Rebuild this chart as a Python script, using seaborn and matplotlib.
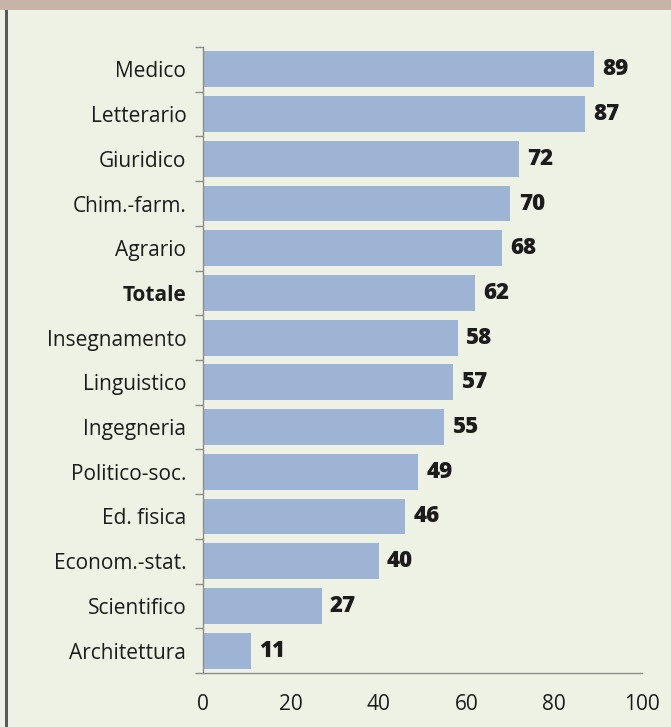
import matplotlib
matplotlib.use("Agg")
import matplotlib.pyplot as plt
import seaborn as sns
import pandas as pd
from matplotlib.ticker import FixedLocator
from matplotlib.patches import Rectangle

# Share (%) by degree area
categories = ["Medico", "Letterario", "Giuridico", "Chim.-farm.", "Agrario",
              "Totale", "Insegnamento", "Linguistico", "Ingegneria",
              "Politico-soc.", "Ed. fisica", "Econom.-stat.", "Scientifico",
              "Architettura"]
values = [89, 87, 72, 70, 68, 62, 58, 57, 55, 49, 46, 40, 27, 11]
x_ticks = [0, 20, 40, 60, 80, 100]
highlight = "Totale"

BG = "#eef2e5"
BAR = "#9db4d4"
BAND = "#c8b3a8"
AXIS = "#8c8c8c"
TEXT = "#1c1c1c"

sns.set_theme(style="white")
plt.rcParams["font.family"] = ["Open Sans", "DejaVu Sans"]

W, H = 671, 727
fig = plt.figure(figsize=(W / 100, H / 100), dpi=100)
fig.patch.set_facecolor(BG)

left, right, top, bottom = 203, 642, 47, 673
ax = fig.add_axes([left / W, 1 - bottom / H, (right - left) / W, (bottom - top) / H])
ax.set_facecolor(BG)

df = pd.DataFrame({"area": categories, "pct": values})
sns.barplot(data=df, x="pct", y="area", color=BAR, saturation=1, width=0.8,
            edgecolor="none", linewidth=0, ax=ax)

ax.set_xlim(0, 100)
ax.set_ylim(len(categories) - 0.5, -0.5)
ax.set_xlabel("")
ax.set_ylabel("")

# value labels at the bar ends
ax.bar_label(ax.containers[0], labels=[str(v) for v in values], padding=6,
             fontsize=16, fontweight="heavy", color=TEXT)

# spines
for s in ("top", "right"):
    ax.spines[s].set_visible(False)
for s in ("left", "bottom"):
    ax.spines[s].set_color(AXIS)
    ax.spines[s].set_linewidth(1)

# x axis: inward ticks
ax.set_xticks(x_ticks)
ax.set_xticklabels([str(t) for t in x_ticks])
ax.tick_params(axis="x", direction="in", length=6, width=1, color=AXIS,
               pad=15, labelsize=15, labelcolor=TEXT)

# y axis: labels at centres, small ticks at category boundaries
ax.tick_params(axis="y", which="major", length=0, pad=12, labelsize=15,
               labelcolor=TEXT)
ax.yaxis.set_minor_locator(FixedLocator([i - 0.5 for i in range(len(categories) + 1)]))
ax.tick_params(axis="y", which="minor", direction="out", length=6, width=1,
               color=AXIS, left=True)
for lab in ax.get_yticklabels():
    if lab.get_text() == highlight:
        lab.set_fontweight("bold")

# header band and left rule of the panel
fig.patches.append(Rectangle((0, 1 - 10 / H), 1, 10 / H, transform=fig.transFigure,
                             facecolor=BAND, edgecolor="none", zorder=0))
fig.patches.append(Rectangle((5 / W, 0), 3 / W, 1 - 10 / H, transform=fig.transFigure,
                             facecolor="#5a5a5a", edgecolor="none", zorder=0))

fig.savefig("out.png", dpi=100, facecolor=BG)
